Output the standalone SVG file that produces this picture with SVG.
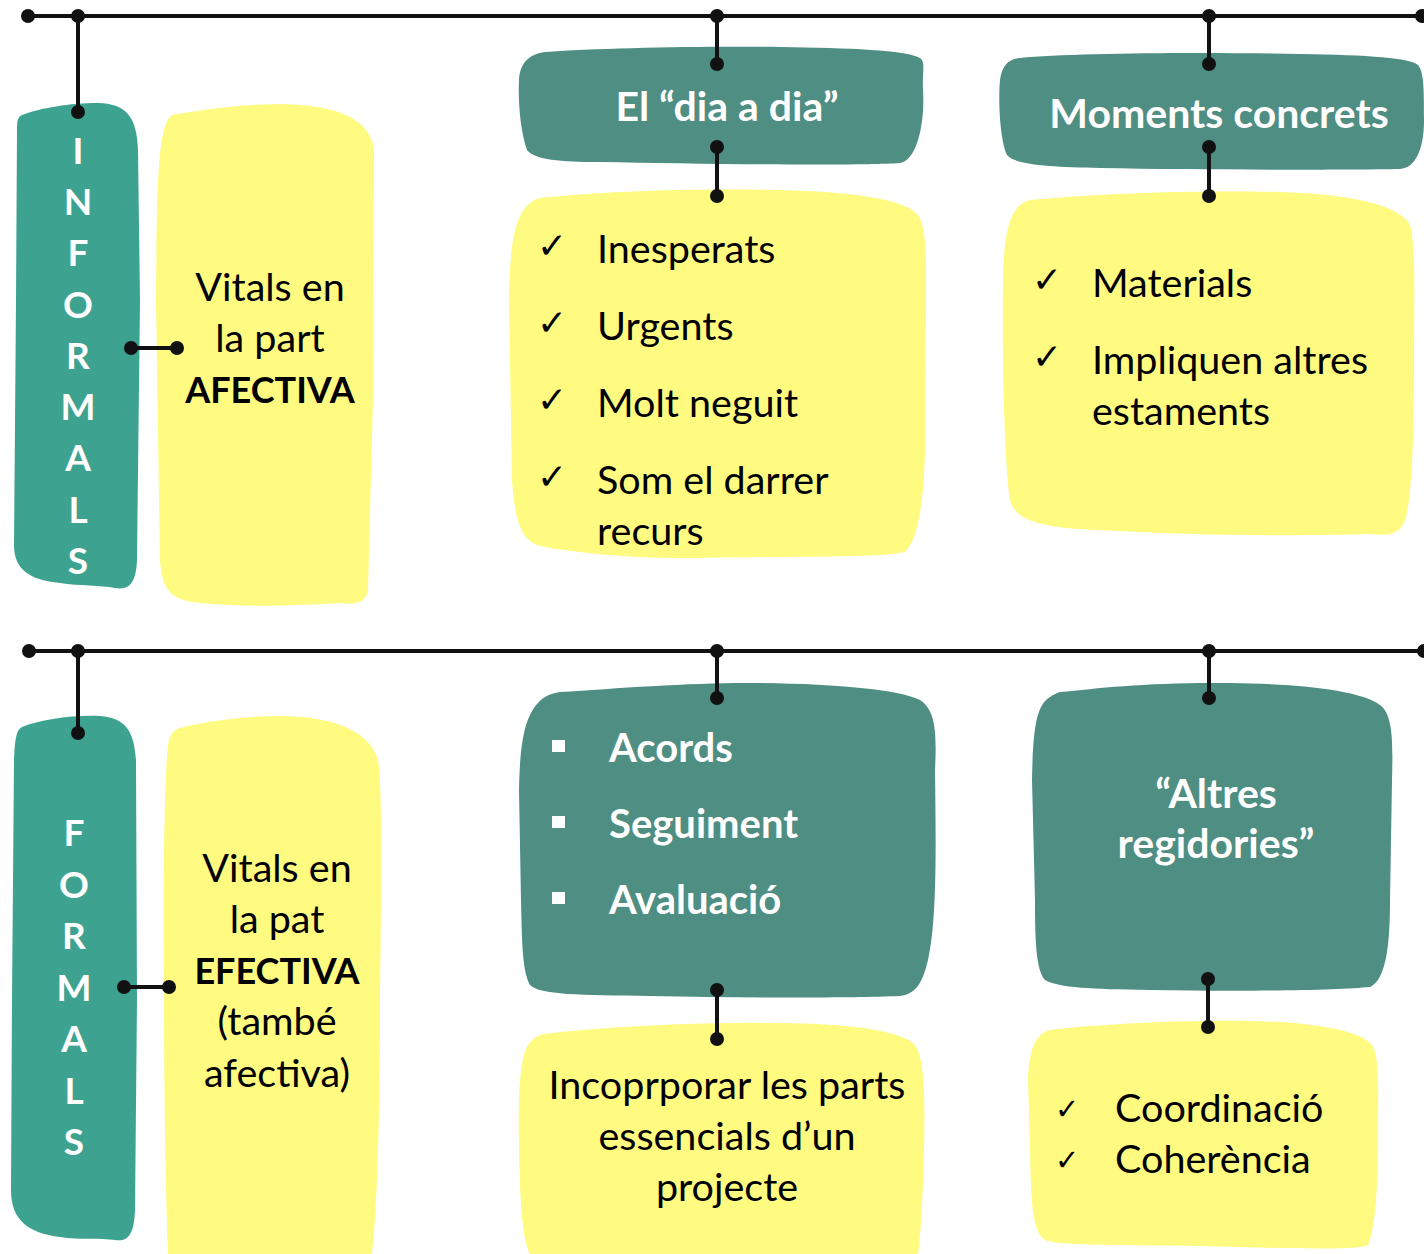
<svg xmlns="http://www.w3.org/2000/svg" width="1424" height="1254" viewBox="0 0 1424 1254">
<style>
.teal{fill:#4F8E82}
.strip{fill:#3DA390}
.yel{fill:#FEFB80}
.ln{stroke:#111;stroke-width:4;fill:none}
.dot{fill:#111}
.t{font-family:Lato,"Open Sans","Liberation Sans",sans-serif;font-size:39.5px;fill:#000}
.w{font-family:Lato,"Open Sans","Liberation Sans",sans-serif;font-size:40px;font-weight:bold;fill:#fff}
.v{font-family:Lato,"Open Sans","Liberation Sans",sans-serif;font-size:41px;font-weight:bold;fill:#fff;text-anchor:middle}
.s{font-family:Lato,"Open Sans","Liberation Sans",sans-serif;font-size:37px;font-weight:bold;fill:#fff;text-anchor:middle}
.c{text-anchor:middle}
.b{font-weight:bold;font-size:36px}
.ck{font-family:"DejaVu Sans",sans-serif;font-size:36px;font-weight:bold;fill:#000}
</style>
<rect width="1424" height="1254" fill="#fff"/>

<g id="informals">
<path class="strip" d="M 22 115 C 40 108, 70 103, 98 103 C 125 104, 137 115, 138 150 L 140 300 L 137 560 C 136 585, 128 590, 115 588 C 100 585, 80 586, 60 583 C 30 580, 14 570, 14 545 L 16 300 L 17 130 C 17 120, 18 117, 22 115 Z"/>
<text class="s" x="78" y="164">I</text>
<text class="s" x="78" y="215">N</text>
<text class="s" x="78" y="266">F</text>
<text class="s" x="78" y="318">O</text>
<text class="s" x="78" y="369">R</text>
<text class="s" x="78" y="420">M</text>
<text class="s" x="78" y="471">A</text>
<text class="s" x="78" y="523">L</text>
<text class="s" x="78" y="574">S</text>
</g>

<g id="vitals-afectiva">
<path class="yel" d="M 172 115 C 200 110, 240 104, 280 104 C 330 105, 370 115, 374 150 L 373 400 L 368 590 C 366 603, 355 605, 340 603 C 300 605, 250 608, 200 603 C 170 600, 162 590, 160 560 L 156 300 C 157 180, 158 125, 172 115 Z"/>
<text class="t c" x="270" y="301">Vitals en</text>
<text class="t c" x="270" y="352">la part</text>
<text class="t c b" x="270" y="403">AFECTIVA</text>
</g>

<g id="dia-a-dia">
<path class="teal" d="M 545 52 C 600 48, 700 46, 780 47 C 850 48, 905 50, 920 58 C 926 62, 922 72, 923 90 C 925 120, 918 160, 900 163 C 860 166, 700 164, 600 162 C 560 162, 535 160, 527 150 C 520 130, 518 100, 519 80 C 520 62, 530 54, 545 52 Z"/>
<text class="v" x="727" y="121">El “dia a dia”</text>
</g>

<g id="moments-concrets">
<path class="teal" d="M 1020 58 C 1070 53, 1200 52, 1300 54 C 1370 55, 1410 58, 1418 65 C 1424 72, 1424 90, 1424 120 C 1424 150, 1415 168, 1400 169 C 1350 170, 1200 170, 1100 168 C 1050 167, 1015 165, 1007 155 C 1000 140, 998 100, 1000 80 C 1002 66, 1008 59, 1020 58 Z"/>
<text class="v" x="1219" y="128">Moments concrets</text>
</g>

<g id="dia-list">
<path class="yel" d="M 540 198 C 600 191, 700 188, 780 190 C 860 192, 905 200, 918 215 C 927 228, 926 260, 926 300 L 925 450 C 924 500, 918 540, 905 552 C 880 558, 800 556, 700 558 C 630 559, 570 552, 540 546 C 520 540, 515 520, 512 480 L 509 300 C 510 240, 515 205, 540 198 Z"/>
<text class="ck" x="537" y="258">✓</text>
<text class="ck" x="537" y="335">✓</text>
<text class="ck" x="537" y="412">✓</text>
<text class="ck" x="537" y="489">✓</text>
<text class="t" x="597" y="263">Inesperats</text>
<text class="t" x="597" y="340">Urgents</text>
<text class="t" x="597" y="417">Molt neguit</text>
<text class="t" x="597" y="494">Som el darrer</text>
<text class="t" x="597" y="545">recurs</text>
</g>

<g id="moments-list">
<path class="yel" d="M 1030 200 C 1100 193, 1200 190, 1280 192 C 1350 194, 1400 205, 1410 225 C 1416 245, 1414 300, 1414 360 C 1414 440, 1412 500, 1405 520 C 1400 534, 1390 536, 1370 534 C 1300 536, 1200 536, 1100 530 C 1040 528, 1015 520, 1010 500 C 1004 460, 1002 350, 1003 280 C 1004 230, 1010 205, 1030 200 Z"/>
<text class="ck" x="1032" y="292">✓</text>
<text class="ck" x="1032" y="369">✓</text>
<text class="t" x="1092" y="297">Materials</text>
<text class="t" x="1092" y="374">Impliquen altres</text>
<text class="t" x="1092" y="425">estaments</text>
</g>

<g id="formals">
<path class="strip" d="M 22 727 C 40 720, 70 715, 100 716 C 125 718, 134 730, 136 760 L 137 1000 L 135 1210 C 134 1235, 128 1242, 115 1240 C 100 1238, 80 1240, 60 1237 C 28 1233, 11 1220, 11 1190 L 12 1000 L 14 760 C 15 740, 16 730, 22 727 Z"/>
<text class="s" x="74" y="846">F</text>
<text class="s" x="74" y="898">O</text>
<text class="s" x="74" y="949">R</text>
<text class="s" x="74" y="1001">M</text>
<text class="s" x="74" y="1052">A</text>
<text class="s" x="74" y="1104">L</text>
<text class="s" x="74" y="1155">S</text>
</g>

<g id="vitals-efectiva">
<path class="yel" d="M 180 728 C 210 720, 250 716, 280 716 C 330 716, 370 730, 378 760 C 383 790, 381 900, 380 1000 C 380 1100, 378 1200, 372 1254 L 168 1254 C 166 1200, 164 1100, 164 1000 C 163 900, 164 780, 168 745 C 170 733, 174 730, 180 728 Z"/>
<text class="t c" x="277" y="882">Vitals en</text>
<text class="t c" x="277" y="933">la pat</text>
<text class="t c b" x="277" y="984">EFECTIVA</text>
<text class="t c" x="277" y="1035">(també</text>
<text class="t c" x="277" y="1087">afectiva)</text>
</g>

<g id="acords">
<path class="teal" d="M 560 692 C 620 688, 700 682, 760 683 C 840 684, 900 690, 920 700 C 935 710, 937 730, 935 770 C 936 850, 937 920, 928 960 C 922 985, 915 994, 900 996 C 850 998, 750 998, 650 996 C 580 995, 540 995, 530 985 C 522 970, 522 940, 521 900 L 519 790 C 520 740, 525 710, 545 697 C 550 694, 555 693, 560 692 Z"/>
<rect x="552" y="740" width="13" height="12" fill="#fff"/>
<rect x="552" y="816" width="13" height="12" fill="#fff"/>
<rect x="552" y="892" width="13" height="12" fill="#fff"/>
<text class="w" x="609" y="762">Acords</text>
<text class="w" x="609" y="838">Seguiment</text>
<text class="w" x="609" y="914">Avaluació</text>
</g>

<g id="incorporar">
<path class="yel" d="M 545 1034 C 600 1027, 700 1022, 780 1023 C 850 1024, 900 1030, 915 1045 C 925 1060, 925 1100, 924 1150 C 923 1200, 920 1240, 918 1254 L 530 1254 C 522 1240, 520 1200, 519 1150 C 518 1100, 519 1060, 528 1045 C 533 1038, 538 1035, 545 1034 Z"/>
<text class="t c" x="727" y="1099">Incoprporar les parts</text>
<text class="t c" x="727" y="1150">essencials d’un</text>
<text class="t c" x="727" y="1201">projecte</text>
</g>

<g id="altres-regidories">
<path class="teal" d="M 1060 692 C 1100 688, 1150 682, 1230 683 C 1300 684, 1360 690, 1380 705 C 1393 715, 1393 740, 1392 780 L 1390 900 C 1390 950, 1385 980, 1370 987 C 1340 990, 1250 992, 1150 990 C 1090 989, 1060 988, 1045 980 C 1036 970, 1035 940, 1035 900 L 1032 780 C 1033 730, 1036 705, 1050 697 C 1053 695, 1056 693, 1060 692 Z"/>
<text class="v" x="1216" y="808">“Altres</text>
<text class="v" x="1216" y="858">regidories”</text>
</g>

<g id="coordinacio">
<path class="yel" d="M 1050 1030 C 1100 1024, 1180 1020, 1250 1021 C 1310 1022, 1360 1030, 1372 1045 C 1380 1058, 1378 1090, 1378 1140 C 1378 1190, 1375 1230, 1368 1245 C 1360 1250, 1300 1249, 1200 1246 C 1120 1245, 1060 1246, 1045 1240 C 1032 1232, 1031 1200, 1030 1150 L 1028 1080 C 1029 1050, 1035 1034, 1050 1030 Z"/>
<text class="ck" x="1055" y="1119" style="font-size:29px">✓</text>
<text class="ck" x="1055" y="1170" style="font-size:29px">✓</text>
<text class="t" x="1115" y="1122">Coordinació</text>
<text class="t" x="1115" y="1173">Coherència</text>
</g>

<g id="connectors">
<path class="ln" d="M 28 16 H 1422 M 78 16 V 112 M 717 16 V 64 M 717 147 V 196 M 1209 16 V 64 M 1209 147 V 196 M 131 348 H 177"/>
<path class="ln" d="M 29 651 H 1424 M 78 651 V 733 M 717 651 V 698 M 717 990 V 1039 M 1209 651 V 698 M 1208 979 V 1027 M 124 987 H 169"/>
<g class="dot">
<circle cx="28" cy="16" r="7"/><circle cx="78" cy="16" r="7"/><circle cx="717" cy="16" r="7"/><circle cx="1209" cy="16" r="7"/><circle cx="1422" cy="16" r="7"/>
<circle cx="78" cy="112" r="7"/><circle cx="717" cy="64" r="7"/><circle cx="717" cy="147" r="7"/><circle cx="717" cy="196" r="7"/>
<circle cx="1209" cy="64" r="7"/><circle cx="1209" cy="147" r="7"/><circle cx="1209" cy="196" r="7"/>
<circle cx="131" cy="348" r="7"/><circle cx="177" cy="348" r="7"/>
<circle cx="29" cy="651" r="7"/><circle cx="78" cy="651" r="7"/><circle cx="717" cy="651" r="7"/><circle cx="1209" cy="651" r="7"/><circle cx="1424" cy="651" r="7"/>
<circle cx="78" cy="733" r="7"/><circle cx="717" cy="698" r="7"/><circle cx="717" cy="990" r="7"/><circle cx="717" cy="1039" r="7"/>
<circle cx="1209" cy="698" r="7"/><circle cx="1208" cy="979" r="7"/><circle cx="1208" cy="1027" r="7"/>
<circle cx="124" cy="987" r="7"/><circle cx="169" cy="987" r="7"/>
</g>
</g>
</svg>
